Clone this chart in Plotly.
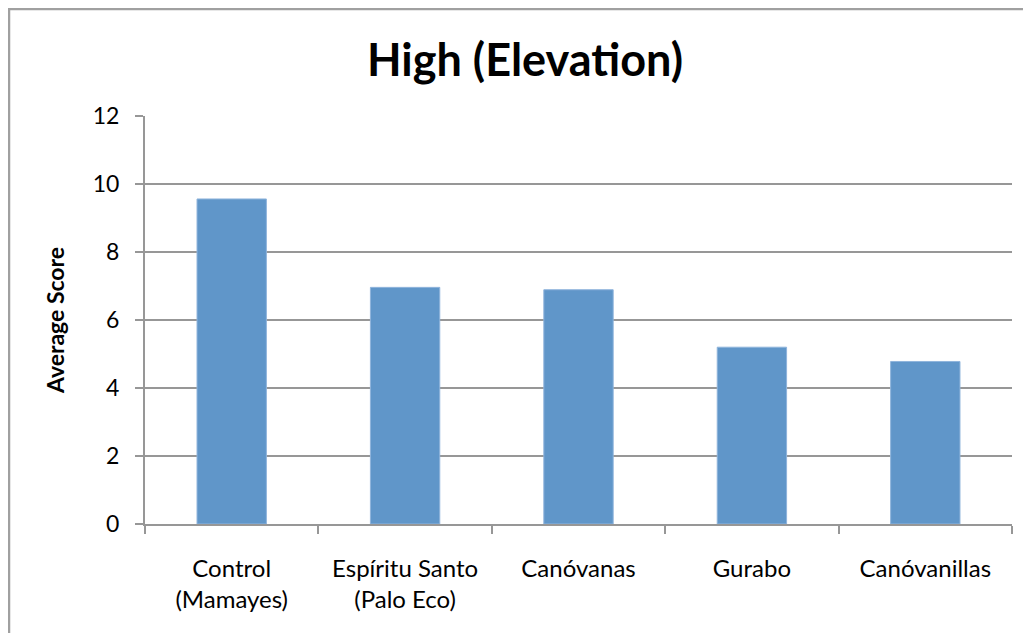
import plotly.graph_objects as go

categories = ["Control<br>(Mamayes)", "Espíritu Santo<br>(Palo Eco)", "Canóvanas", "Gurabo", "Canóvanillas"]
scores = [9.56, 6.96, 6.89, 5.20, 4.78]
y_ticks = [0, 2, 4, 6, 8, 10, 12]

# page has an 8px body margin; figure occupies page x 8..1023, y 8..633
OFF = 8
W, H = 1015, 625
PL, PR, PT, PB = 145, 1012, 116, 524   # plot area in page coords
L, R, T, B = PL - OFF, (OFF + W) - PR, PT - OFF, (OFF + H) - PB
pw, ph = W - L - R, H - T - B

FONT = "Lato"
GRID = "#979797"

fig = go.Figure(go.Bar(
    x=categories, y=scores,
    marker=dict(color="#6096C9", line=dict(color="#8FB4DC", width=1)),
    width=0.4,
))

fig.update_layout(
    width=W, height=H,
    margin=dict(l=L, r=R, t=T, b=B),
    paper_bgcolor="white", plot_bgcolor="white",
    showlegend=False,
    font=dict(family=FONT, color="black", size=23),
    title=dict(text="<b>High (Elevation)</b>", x=(525 - OFF) / W, xanchor="center",
               y=1 - (60 - OFF) / H, yanchor="middle",
               font=dict(family=FONT, size=45, color="black")),
    xaxis=dict(
        showline=True, linecolor=GRID, linewidth=2,
        ticks="outside", ticklen=8, tickcolor=GRID, tickwidth=2,
        tickson="boundaries", showgrid=False,
        tickfont=dict(size=24), ticklabelstandoff=22,
    ),
    yaxis=dict(
        range=[0, 12], tickvals=y_ticks,
        showline=True, linecolor=GRID, linewidth=2,
        ticks="outside", ticklen=8, tickcolor=GRID, tickwidth=2,
        showgrid=True, gridcolor=GRID, gridwidth=2,
        zeroline=False,
        tickfont=dict(size=23), ticklabelstandoff=11,
        title=dict(text="<b>Average Score</b>", font=dict(size=23), standoff=22),
    ),
    shapes=[dict(
        type="rect", xref="paper", yref="paper",
        x0=(1 - L) / pw, x1=(W + 5 - L) / pw,
        y0=-(B + 5) / ph, y1=1 + (T - 1) / ph,
        line=dict(color="#A0A0A0", width=2.5), layer="below",
    )],
)

fig.write_html("out.html")
